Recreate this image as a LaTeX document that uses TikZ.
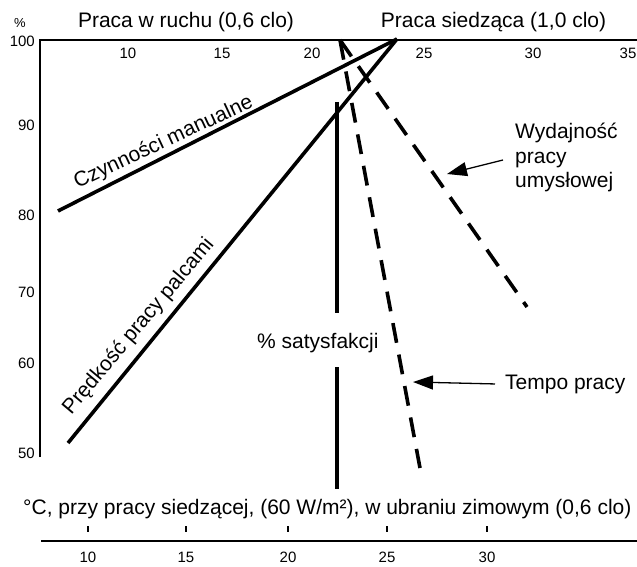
\documentclass[tikz,border=0pt]{standalone}
\usepackage{fontspec}
\setmainfont{Liberation Sans}
\usetikzlibrary{arrows.meta}
\begin{document}
\begin{tikzpicture}[x=1pt,y=-1pt,
  big/.style={font=\fontsize{21}{24}\selectfont, inner sep=0pt},
  num/.style={font=\fontsize{15}{18}\selectfont, inner sep=0pt},
  axisline/.style={line width=2pt},
  curve/.style={line width=3.6pt},
  dcurve/.style={line width=3.6pt, dash pattern=on 20pt off 12pt},
  pointer/.style={line width=1.3pt, -{Triangle[length=20pt,width=14pt]}},
  tickmark/.style={line width=1.3pt}]
\useasboundingbox (0,0) rectangle (637,567);

% axes
\coordinate (O) at (40,40);
\coordinate (Ybot) at (40,457);
\coordinate (Xtop) at (637,40);
\coordinate (Bl) at (41,541);
\coordinate (Br) at (637,541);
\draw[axisline] (Ybot) -- (O) -- (Xtop);
\draw[axisline] (Bl) -- (Br);

% axis labels
\node[font=\fontsize{13}{15}\selectfont, inner sep=0pt] (pct) at (20,23) {\%};
\foreach \yy/\l in {47/100,130.5/90,220.5/80,297.5/70,368.5/60,458.5/50}
  \node[num, anchor=base east] (yl\l) at (35,\yy) {\l};
\foreach \xx/\l in {128/10,222/15,312/20,424/25,533/30,628/35}
  \node[num, anchor=base] (tl\l) at (\xx,58.5) {\l};
\foreach \xx/\l in {88/10,186/15,288/20,387/25,487/30}{
  \draw[tickmark] (\xx,526) -- (\xx,532);
  \node[num, anchor=base] (bl\l) at (\xx,562.5) {\l};
}

% titles
\node[big, anchor=base] (t1) at (186,28) {Praca w ruchu (0,6 clo)};
\node[big, anchor=base] (t2) at (493.5,28) {Praca siedząca (1,0 clo)};
\node[big, anchor=base west] (bottomtitle) at (23,514) {°C, przy pracy siedzącej, (60 W/m²), w ubraniu zimowym (0,6 clo)};

% solid lines
\coordinate (apex) at (397,39);
\coordinate (cz) at (58,211);
\coordinate (pr) at (68,443);
\draw[curve] (cz) -- (apex);
\draw[curve] (pr) -- (apex);
\node[big, anchor=base, rotate=25] (czl) at (166,147.5) {Czynności manualne};
\node[big, anchor=base, rotate=50] (prl) at (143,330) {Prędkość pracy palcami};

% satisfaction
\coordinate (s1) at (337,102);
\coordinate (s2) at (337,313);
\coordinate (s3) at (337,367);
\coordinate (s4) at (337,489);
\draw[curve] (s1) -- (s2);
\draw[curve] (s3) -- (s4);
\node[big, anchor=base west] (sat) at (257,348) {\% satysfakcji};

% dashed lines
\coordinate (dapex) at (340,40);
\coordinate (tempoEnd) at (420,468);
\coordinate (wydEnd) at (527,307);
\draw[dcurve] (dapex) -- (tempoEnd);
\draw[dcurve] (dapex) -- (wydEnd);

% labels with arrows
\node[big, anchor=base west] (tempo) at (505,389) {Tempo pracy};
\coordinate (tempoTip) at (413,382);
\draw[pointer] ([xshift=-10pt]tempo.west) -- (tempoTip);

\node[big, anchor=base west] (wyd1) at (515,139) {Wydajność};
\node[big, anchor=base west] (wyd2) at (515,163) {pracy};
\node[big, anchor=base west] (wyd3) at (515,187) {umysłowej};
\coordinate (wydTail) at (503,160);
\coordinate (wydTip) at (447,174);
\draw[pointer] (wydTail) -- (wydTip);
\end{tikzpicture}
\end{document}
